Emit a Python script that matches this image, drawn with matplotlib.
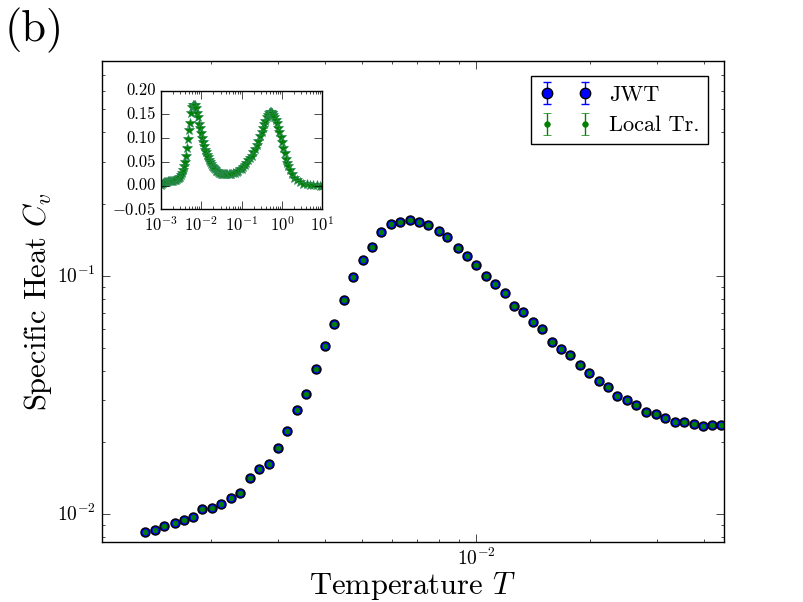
import matplotlib
matplotlib.use('Agg')
import matplotlib.pyplot as plt

# Temperature grid and specific heat
temp = [1.338e-3, 1.422e-3, 1.505e-3, 1.600e-3, 1.694e-3, 1.789e-3, 1.896e-3, 2.008e-3,
        2.128e-3, 2.253e-3, 2.384e-3, 2.529e-3, 2.676e-3, 2.838e-3, 3.004e-3, 3.172e-3,
        3.363e-3, 3.559e-3, 3.783e-3, 3.996e-3, 4.220e-3, 4.484e-3, 4.745e-3, 5.041e-3,
        5.324e-3, 5.616e-3, 5.977e-3, 6.314e-3, 6.697e-3, 7.087e-3, 7.485e-3, 7.972e-3,
        8.400e-3, 8.951e-3, 9.451e-3, 9.980e-3, 1.061e-2, 1.120e-2, 1.190e-2, 1.257e-2,
        1.328e-2, 1.414e-2, 1.493e-2, 1.587e-2, 1.676e-2, 1.770e-2, 1.884e-2, 1.990e-2,
        2.115e-2, 2.234e-2, 2.360e-2, 2.507e-2, 2.649e-2, 2.814e-2, 2.979e-2, 3.153e-2,
        3.344e-2, 3.532e-2, 3.753e-2, 3.965e-2, 4.195e-2, 4.438e-2]
cv_jwt = [0.00838, 0.00854, 0.00890, 0.00919, 0.00944, 0.00971, 0.01049, 0.01059,
          0.01101, 0.01167, 0.01225, 0.01416, 0.01549, 0.01622, 0.01892, 0.02237,
          0.02731, 0.03204, 0.04047, 0.05055, 0.06253, 0.07885, 0.09875, 0.1164,
          0.1328, 0.1525, 0.1648, 0.1691, 0.1708, 0.1691, 0.1632, 0.1540,
          0.1449, 0.1303, 0.1206, 0.1106, 0.0994, 0.0920, 0.0844, 0.0744,
          0.0702, 0.0637, 0.0596, 0.0530, 0.0491, 0.0463, 0.0421, 0.0390,
          0.0363, 0.0342, 0.0314, 0.0301, 0.0288, 0.0269, 0.0264, 0.0253,
          0.0244, 0.0244, 0.0238, 0.0235, 0.0237, 0.0236]
cv_local = list(cv_jwt)  # the two methods agree within the marker size
rel_err = 0.015

# extra points of the wide-range inset (outside the main window)
temp_low = [1.00e-3, 1.06e-3, 1.13e-3, 1.22e-3, 1.28e-3]
cv_low = [0.001, 0.004, 0.006, 0.007, 0.0078]
temp_high = [0.048, 0.052, 0.056, 0.062, 0.068, 0.075, 0.083, 0.091, 0.100, 0.110,
             0.120, 0.132, 0.146, 0.160, 0.177, 0.195, 0.214, 0.236, 0.259, 0.285,
             0.313, 0.335, 0.358, 0.385, 0.417, 0.440, 0.465, 0.504, 0.530, 0.554,
             0.580, 0.610, 0.650, 0.697, 0.750, 0.811, 0.870, 0.927, 1.00, 1.079,
             1.16, 1.256, 1.34, 1.436, 1.58, 1.737, 2.0, 2.31, 2.8, 3.38,
             4.1, 4.94, 6.0, 7.24, 8.6, 10.0]
cv_high = [0.0236, 0.0240, 0.0248, 0.026, 0.0275, 0.029, 0.031, 0.034, 0.036, 0.039,
           0.044, 0.048, 0.053, 0.058, 0.063, 0.070, 0.077, 0.086, 0.095, 0.104,
           0.114, 0.122, 0.129, 0.137, 0.145, 0.149, 0.152, 0.155, 0.155, 0.154,
           0.152, 0.149, 0.145, 0.139, 0.131, 0.121, 0.112, 0.103, 0.091, 0.079,
           0.068, 0.056, 0.048, 0.041, 0.033, 0.025, 0.017, 0.011, 0.007, 0.004,
           0.0025, 0.0014, 0.0007, 0.0003, 0.0001, 0.0]

plt.style.use('classic')
plt.rcParams['font.family'] = 'serif'
plt.rcParams['font.serif'] = ['cmr10']
plt.rcParams['mathtext.fontset'] = 'cm'
plt.rcParams['axes.formatter.use_mathtext'] = True
plt.rcParams['axes.unicode_minus'] = False
plt.rcParams['xtick.major.size'] = 5.5
plt.rcParams['ytick.major.size'] = 5.5
plt.rcParams['xtick.minor.size'] = 2.5
plt.rcParams['ytick.minor.size'] = 2.5

fig = plt.figure(figsize=(8.04, 6.02), dpi=100, facecolor='white')
ax = fig.add_axes([0.1265, 0.1002, 0.774, 0.7988])

ax.errorbar(temp, cv_jwt, yerr=[rel_err * c for c in cv_jwt], fmt='o', color='b',
            ecolor='b', ms=6.5, mec='k', mew=1.0, capsize=3, label='JWT')
ax.errorbar(temp, cv_local, yerr=[rel_err * c for c in cv_local], fmt='.', color='g',
            ecolor='g', ms=7, mec='g', capsize=3, label='Local Tr.')
ax.set_xscale('log')
ax.set_yscale('log')
ax.set_xlim(1.028e-3, 0.0451)
ax.set_ylim(0.00765, 0.80)
ax.tick_params(labelsize=14)
ax.set_xlabel('Temperature $T$', fontsize=22, labelpad=1)
ax.set_ylabel('Specific Heat $C_v$', fontsize=22, labelpad=2)
leg = ax.legend(loc='upper right', numpoints=2, fontsize=16, frameon=True,
                markerscale=1.15, borderaxespad=0.7, handlelength=2.3)
leg.get_frame().set_edgecolor('k')

# inset: full temperature range, linear Cv
ins = fig.add_axes([0.2002, 0.6523, 0.2006, 0.197])
t_all = temp_low + temp + temp_high
c_all = cv_low + cv_local + cv_high
ins.errorbar(t_all, c_all, fmt='*', color='g', ecolor='c', ms=7, mec='#2e8b57',
             mew=0.5, capsize=0)
ins.set_xscale('log')
ins.set_xlim(1e-3, 1e1)
ins.set_ylim(-0.05, 0.20)
ins.set_yticks([-0.05, 0.0, 0.05, 0.10, 0.15, 0.20])
ins.set_yticklabels(['$-0.05$', '0.00', '0.05', '0.10', '0.15', '0.20'])
ins.tick_params(labelsize=12)

fig.text(0.006, 0.931, '(b)', fontsize=32, va='baseline', ha='left')

fig.savefig('out.png', dpi=100, facecolor='white')
